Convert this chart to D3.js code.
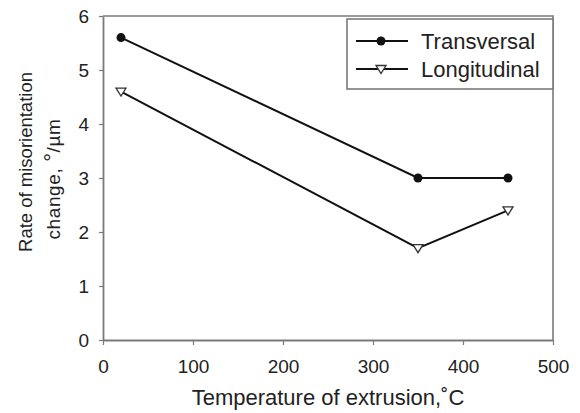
<!DOCTYPE html>
<html>
<head>
<meta charset="utf-8">
<script src="https://cdn.jsdelivr.net/npm/d3@7"></script>
<style>
  body { margin: 0; background: #fff; }
  svg { display: block; font-family: "Liberation Sans", Arial, sans-serif; }
</style>
</head>
<body>
<svg id="chart" width="580" height="413"></svg>
<script>
// data
var temps = [20, 350, 450];
var transversal = [5.6, 3.0, 3.0];
var longitudinal = [4.6, 1.7, 2.4];
var seriesNames = ["Transversal", "Longitudinal"];
var xTicks = [0, 100, 200, 300, 400, 500];
var yTicks = [0, 1, 2, 3, 4, 5, 6];

var svg = d3.select("#chart"),
    margin = {top: 16, right: 27, bottom: 73, left: 103},
    width = +svg.attr("width") - margin.left - margin.right,
    height = +svg.attr("height") - margin.top - margin.bottom,
    g = svg.append("g").attr("transform", "translate(" + margin.left + "," + margin.top + ")");

var x = d3.scaleLinear().domain([0, 500]).range([0, width]);
var y = d3.scaleLinear().domain([0, 6]).range([height, 0]);

var axisColor = "#7a7a7a";

// frame top + right
g.append("path")
    .attr("d", "M0,0H" + width + "V" + height)
    .attr("fill", "none")
    .attr("stroke", axisColor)
    .attr("stroke-width", 1.6);

var xAxis = g.append("g")
    .attr("transform", "translate(0," + height + ")")
    .call(d3.axisBottom(x).tickValues(xTicks).tickFormat(d3.format("d"))
      .tickSize(5).tickPadding(15).tickSizeOuter(0));

var yAxis = g.append("g")
    .call(d3.axisLeft(y).tickValues(yTicks).tickFormat(d3.format("d"))
      .tickSize(4).tickPadding(10).tickSizeOuter(0));

[xAxis, yAxis].forEach(function(a) {
  a.select(".domain").attr("stroke", axisColor).attr("stroke-width", 1.8);
  a.selectAll(".tick line").attr("stroke", axisColor).attr("stroke-width", 1.2);
  a.selectAll(".tick text").attr("fill", "#222").attr("font-size", 19)
    .attr("font-family", "Liberation Sans, Arial, sans-serif");
});

// titles
svg.append("text")
    .attr("x", margin.left + width / 2)
    .attr("y", 405)
    .attr("text-anchor", "middle")
    .attr("font-size", 22)
    .attr("fill", "#222")
    .text("Temperature of extrusion,\u02daC");

svg.append("text")
    .attr("transform", "translate(32,162) rotate(-90)")
    .attr("text-anchor", "middle")
    .attr("font-size", 18.5)
    .attr("fill", "#222")
    .text("Rate of misorientation");
var t2 = svg.append("text")
    .attr("transform", "translate(60,179) rotate(-90)")
    .attr("text-anchor", "middle")
    .attr("font-size", 19)
    .attr("letter-spacing", 0.6)
    .attr("fill", "#222");
t2.append("tspan").text("change, ");
t2.append("tspan").attr("font-size", 22).text("\u00b0");
t2.append("tspan").text("/\u00b5m");

var series = [
  {name: seriesNames[0], values: transversal, marker: "circle"},
  {name: seriesNames[1], values: longitudinal, marker: "triangle"}
];

var line = d3.line()
    .x(function(d) { return x(d.t); })
    .y(function(d) { return y(d.v); });

var triangleDown = "M-5,-3.5L5,-3.5L0,4.5Z";

function drawMarker(sel, type) {
  if (type == "circle") {
    sel.append("circle").attr("r", 4.5).attr("fill", "#111");
  } else {
    sel.append("path").attr("d", triangleDown)
      .attr("fill", "#fff").attr("stroke", "#333").attr("stroke-width", 1.3);
  }
}

series.forEach(function(s) {
  var pts = temps.map(function(t, i) { return {t: t, v: s.values[i]}; });
  g.append("path")
      .datum(pts)
      .attr("fill", "none")
      .attr("stroke", "#111")
      .attr("stroke-width", 2)
      .attr("d", line);
  pts.forEach(function(p) {
    var m = g.append("g").attr("transform", "translate(" + x(p.t) + "," + y(p.v) + ")");
    drawMarker(m, s.marker);
  });
});

// legend
var legend = svg.append("g");
legend.append("rect")
    .attr("x", 347).attr("y", 19)
    .attr("width", 206).attr("height", 70)
    .attr("fill", "#fff")
    .attr("stroke", axisColor)
    .attr("stroke-width", 1.6);

series.forEach(function(s, i) {
  var row = legend.append("g").attr("transform", "translate(0," + (41 + i * 28) + ")");
  row.append("line").attr("x1", 356).attr("x2", 408)
    .attr("stroke", "#111").attr("stroke-width", 2);
  var m = row.append("g").attr("transform", "translate(381,0)");
  drawMarker(m, s.marker);
  row.append("text").attr("x", 421).attr("y", 8)
    .attr("font-size", 22).attr("fill", "#222")
    .text(s.name);
});
</script>
</body>
</html>
